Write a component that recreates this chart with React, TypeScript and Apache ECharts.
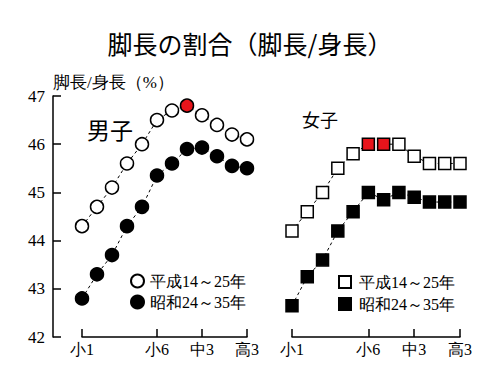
import React, { useEffect, useRef } from 'react';
import * as echarts from 'echarts';

const grades = ['小1', '小2', '小3', '小4', '小5', '小6', '中1', '中2', '中3', '高1', '高2', '高3'];
const tickIdx = [0, 5, 8, 11];
const yMin = 42;
const yMax = 47;
const yStep = 1;
const boysHeisei = [44.3, 44.7, 45.1, 45.6, 46.0, 46.5, 46.7, 46.8, 46.6, 46.4, 46.2, 46.1];
const boysShowa = [42.8, 43.3, 43.7, 44.3, 44.7, 45.35, 45.6, 45.9, 45.93, 45.75, 45.55, 45.5];
const girlsHeisei = [44.2, 44.6, 45.0, 45.5, 45.8, 46.0, 46.0, 46.0, 45.75, 45.6, 45.6, 45.6];
const girlsShowa = [42.65, 43.25, 43.6, 44.2, 44.6, 45.0, 44.85, 45.0, 44.9, 44.8, 44.8, 44.8];
const boysPeak = [7];
const girlsPeak = [5, 6];
const legendLabels: Record<string, string> = {
  boysH: '平成14～25年',
  boysS: '昭和24～35年',
  girlsH: '平成14～25年',
  girlsS: '昭和24～35年',
};

const SERIF = 'Liberation Serif';
const SANS = 'Noto Sans CJK JP';

function mark(values: number[], peaks: number[]) {
  return values.map((v, i) =>
    peaks.includes(i) ? { value: v, itemStyle: { color: '#e8141b', borderColor: '#000' } } : v
  );
}

export default function App() {
  const ref = useRef<HTMLDivElement>(null);
  useEffect(() => {
    document.body.style.margin = '0';
    if (!ref.current) return;
    const chart = echarts.init(ref.current, undefined, { renderer: 'svg' });
    const showIdx = (i: number) => tickIdx.includes(i);
    const xAxisBase = (gridIndex: number) => ({
      type: 'category',
      gridIndex,
      data: grades,
      boundaryGap: false,
      axisLine: { lineStyle: { color: '#000', width: 1.5 } },
      axisTick: { inside: true, length: 8, interval: showIdx, lineStyle: { color: '#000', width: 1.5 } },
      axisLabel: { interval: showIdx, color: '#000', fontSize: 16, fontFamily: SERIF, margin: 4 },
      splitLine: { show: false },
    });
    const lineStyle = { color: '#000', width: 1, type: [3, 3] };
    const openStyle = { color: '#fff', borderColor: '#000', borderWidth: 1.5 };
    const fillStyle = { color: '#000', borderColor: '#000', borderWidth: 1.5 };
    const common = { type: 'line', showSymbol: true, showAllSymbol: true, z: 3, lineStyle };
    chart.setOption({
      animation: false,
      backgroundColor: '#fff',
      title: {
        text: '脚長の割合（脚長/身長）',
        left: 'center',
        top: 30,
        padding: 0,
        textStyle: { fontFamily: SANS, fontSize: 25, fontWeight: 'normal', color: '#000' },
      },
      grid: [
        { left: 82, top: 96, width: 165, height: 241 },
        { left: 292, top: 96, width: 168, height: 241 },
      ],
      xAxis: [xAxisBase(0), xAxisBase(1)],
      yAxis: [
        {
          type: 'value',
          gridIndex: 0,
          min: yMin,
          max: yMax,
          interval: yStep,
          offset: 29,
          name: '脚長/身長（%）',
          nameLocation: 'end',
          nameGap: 14,
          nameTextStyle: { align: 'left', verticalAlign: 'middle', fontSize: 17, fontFamily: SERIF, color: '#000' },
          axisLine: { show: true, lineStyle: { color: '#000', width: 1.5 } },
          axisTick: { show: true, inside: true, length: 8, lineStyle: { color: '#000', width: 1.5 } },
          axisLabel: { color: '#000', fontSize: 17, fontFamily: SERIF, margin: 8 },
          splitLine: { show: false },
        },
        { type: 'value', gridIndex: 1, min: yMin, max: yMax, interval: yStep, show: false, splitLine: { show: false } },
      ],
      legend: [
        {
          data: ['boysH', 'boysS'],
          orient: 'vertical',
          left: 130,
          top: 273,
          padding: 0,
          itemGap: 5,
          icon: 'circle',
          itemWidth: 13,
          itemHeight: 13,
          formatter: (n: string) => legendLabels[n],
          textStyle: { fontSize: 16, fontFamily: SERIF, color: '#000', padding: [0, 0, 0, 1] },
          selectedMode: false,
        },
        {
          data: ['girlsH', 'girlsS'],
          orient: 'vertical',
          left: 338,
          top: 274,
          padding: 0,
          itemGap: 6,
          icon: 'rect',
          itemWidth: 12,
          itemHeight: 12,
          formatter: (n: string) => legendLabels[n],
          textStyle: { fontSize: 16, fontFamily: SERIF, color: '#000', padding: [0, 0, 0, 3] },
          selectedMode: false,
        },
      ],
      graphic: [
        { type: 'text', left: 87, top: 117, style: { text: '男子', fontSize: 23, fontFamily: SANS, fill: '#000' } },
        { type: 'text', left: 302, top: 110, style: { text: '女子', fontSize: 18, fontFamily: SANS, fill: '#000' } },
      ],
      series: [
        {
          ...common, name: 'boysH', xAxisIndex: 0, yAxisIndex: 0,
          data: mark(boysHeisei, boysPeak), symbol: 'circle', symbolSize: 13, itemStyle: openStyle,
        },
        {
          ...common, name: 'boysS', xAxisIndex: 0, yAxisIndex: 0,
          data: boysShowa, symbol: 'circle', symbolSize: 13, itemStyle: fillStyle,
        },
        {
          ...common, name: 'girlsH', xAxisIndex: 1, yAxisIndex: 1,
          data: mark(girlsHeisei, girlsPeak), symbol: 'rect', symbolSize: 12, itemStyle: openStyle,
        },
        {
          ...common, name: 'girlsS', xAxisIndex: 1, yAxisIndex: 1,
          data: girlsShowa, symbol: 'rect', symbolSize: 12, itemStyle: fillStyle,
        },
      ],
    });
    return () => chart.dispose();
  }, []);
  return <div ref={ref} style={{ width: 500, height: 375 }} />;
}
